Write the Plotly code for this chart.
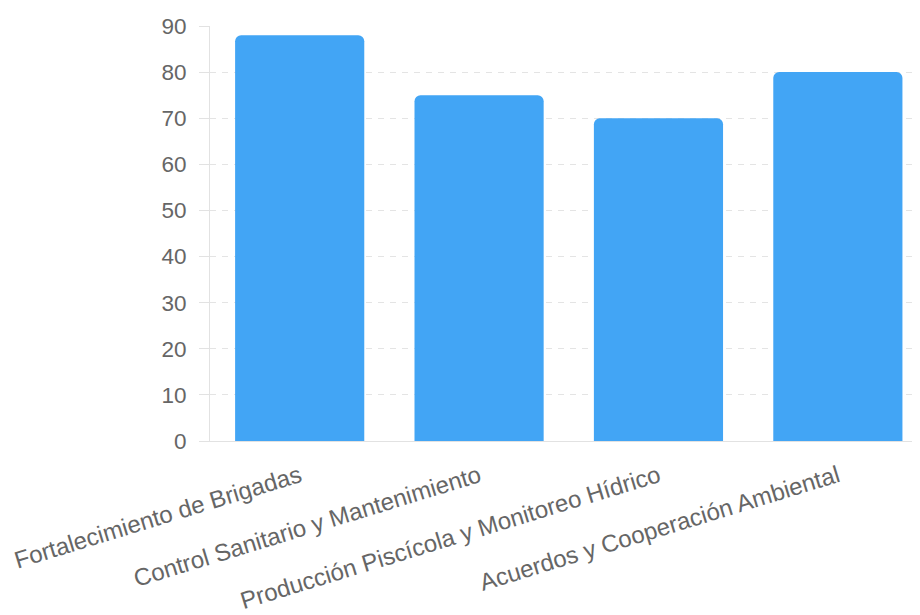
import plotly.graph_objects as go

categories = [
    "Fortalecimiento de Brigadas",
    "Control Sanitario y Mantenimiento",
    "Producción Piscícola y Monitoreo Hídrico",
    "Acuerdos y Cooperación Ambiental",
]
values = [88, 75, 70, 80]
y_ticks = [0, 10, 20, 30, 40, 50, 60, 70, 80, 90]

fig = go.Figure(
    go.Bar(
        x=list(range(len(categories))),
        y=values,
        marker=dict(color="#42A5F5", cornerradius=6, line=dict(width=0)),
        hoverinfo="y",
    )
)

font_family = "Liberation Sans, Arial, sans-serif"

fig.update_layout(
    width=912,
    height=607,
    margin=dict(l=202, r=5, t=18, b=174, autoexpand=False),
    paper_bgcolor="white",
    plot_bgcolor="white",
    bargap=0.28,
    showlegend=False,
    font=dict(family=font_family, color="#666666"),
)

fig.update_xaxes(
    tickmode="array",
    tickvals=list(range(len(categories))),
    ticktext=categories,
    range=[-0.5, 3.43],
    tickangle=-17,
    tickfont=dict(size=24, color="#666666", family=font_family),
    showgrid=False,
    showline=True,
    linecolor="#e2e2e2",
    linewidth=1,
    ticks="",
    ticklabelstandoff=11,
    zeroline=False,
    automargin=False,
)

fig.update_yaxes(
    range=[0, 90],
    tickmode="array",
    tickvals=y_ticks,
    ticktext=[str(v) for v in y_ticks],
    tickfont=dict(size=22.5, color="#666666", family=font_family),
    showgrid=True,
    gridcolor="#e4e4e4",
    griddash="6px,6px",
    gridwidth=1,
    showline=True,
    linecolor="#e2e2e2",
    linewidth=1,
    ticks="outside",
    ticklen=10,
    tickcolor="#e2e2e2",
    ticklabelstandoff=8,
    zeroline=False,
    automargin=False,
)

fig.write_html("out.html")
